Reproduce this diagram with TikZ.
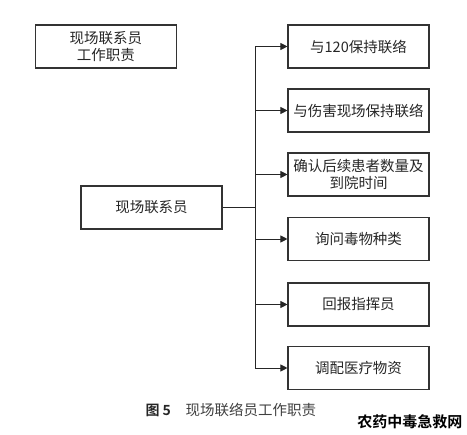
\documentclass[tikz,border=0pt]{standalone}
\usepackage{fontspec}
\newfontfamily\cjk{Noto Sans CJK SC}
\newfontfamily\cjkb{Noto Sans CJK SC Bold}
\usetikzlibrary{arrows.meta}
\begin{document}
\begin{tikzpicture}[x=1pt,y=-1pt,
  box/.style={draw=black!80, line width=1.1pt, minimum width=141pt, minimum height=43pt, inner sep=0pt, align=center, font=\cjk\fontsize{14.5}{17}\selectfont, text=black!85},
  conn/.style={draw=black!85, line width=0.9pt},
  arr/.style={conn, -{Triangle[length=7pt,width=7pt]}}]
\useasboundingbox (0,0) rectangle (467,435);
\node[box] (title) at (106,46.5) {现场联系员\\工作职责};
\node[box] (main) at (151.5,207.5) {现场联系员};
\node[box] (b1) at (358.5,46.5) {与120保持联络};
\node[box] (b2) at (358.5,110.5) {与伤害现场保持联络};
\node[box] (b3) at (358.5,174.5) {确认后续患者数量及\\到院时间};
\node[box] (b4) at (358.5,239) {询问毒物种类};
\node[box] (b5) at (358.5,304.5) {回报指挥员};
\node[box] (b6) at (358.5,368) {调配医疗物资};
\coordinate (top) at (255,46.5);
\coordinate (bot) at (255,368);
\coordinate (mid) at (255,207.5);
\draw[conn] (main.east) -- (mid);
\draw[conn] (top) -- (bot);
\foreach \b in {b1,b2,b3,b4,b5,b6}{
  \draw[arr] (top |- \b.west) -- (\b.west);
}
\node[font=\cjkb\fontsize{14}{16}\selectfont, text=black!85, anchor=west] (fig) at (142,410) {图 5};
\node[font=\cjk\fontsize{14.5}{16}\selectfont, text=black!75, anchor=west] (cap) at (182,410) {现场联络员工作职责};
\node[font=\cjkb\fontsize{15}{16}\selectfont, text=black, anchor=east] (wm) at (466,422) {农药中毒急救网};
\end{tikzpicture}
\end{document}
